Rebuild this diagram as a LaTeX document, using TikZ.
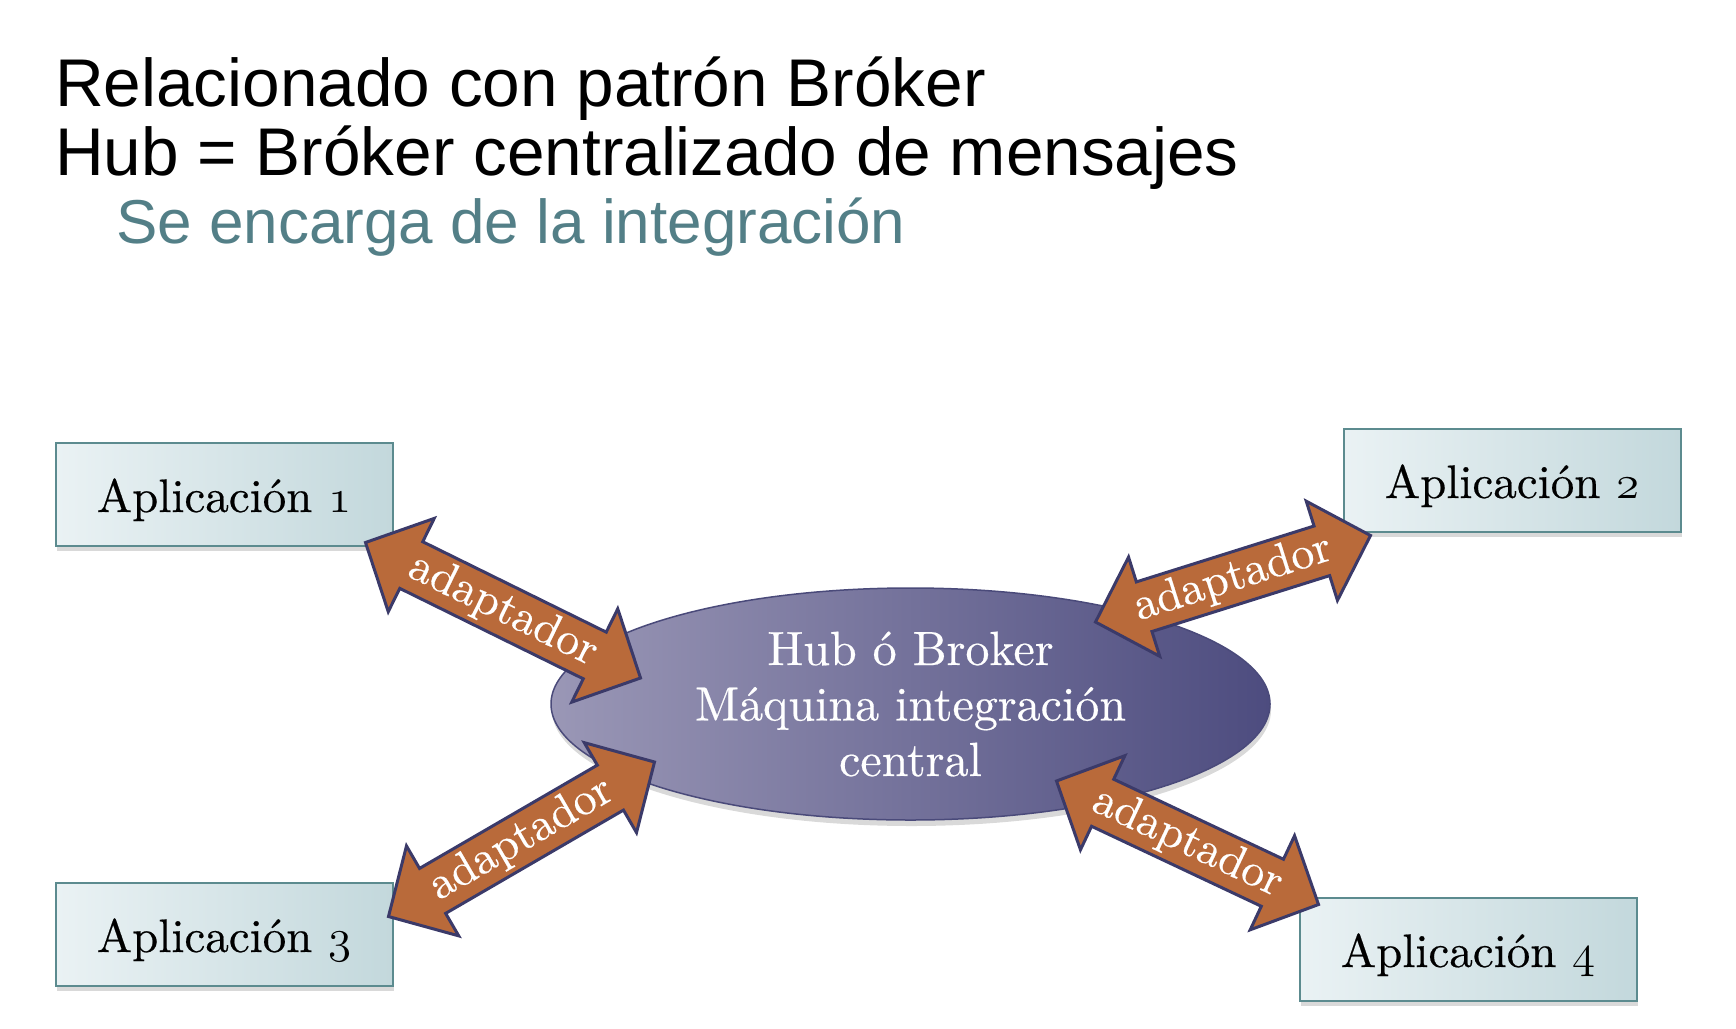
\documentclass[tikz,border=0pt]{standalone}
\usepackage{fix-cm}
\usepackage{fontspec}
\newfontfamily\titlefont{Liberation Sans}
\newfontfamily\romfont{lmroman10-regular}[Extension=.otf, FakeBold=0.4]
\usetikzlibrary{
  calc,
  shapes.geometric,
  shadows,
}
\definecolor{appleft}{HTML}{EAF2F4}
\definecolor{appright}{HTML}{C3D8DC}
\definecolor{appline}{HTML}{5C8B8F}
\definecolor{hubleft}{HTML}{9A97B6}
\definecolor{hubright}{HTML}{4D4C7F}
\definecolor{hubline}{HTML}{4A4A7A}
\definecolor{adfill}{HTML}{B96A3A}
\definecolor{adline}{HTML}{3B3A69}
\definecolor{subtitle}{HTML}{537F87}
\newcommand\osn[1]{{\usefont{OML}{cmm}{m}{it}#1}}

\tikzset{
  fat/.style={
    fill=adfill, draw=adline, line width=3pt, line join=miter,
    to path={
      (\tikztostart)
      -- ($($(\tikztostart)!51pt!(\tikztotarget)$)!52pt!90:(\tikztotarget)$)
      -- ($($(\tikztostart)!51pt!(\tikztotarget)$)!26pt!90:(\tikztotarget)$)
      -- ($($(\tikztotarget)!51pt!(\tikztostart)$)!26pt!-90:(\tikztostart)$)
      -- ($($(\tikztotarget)!51pt!(\tikztostart)$)!52pt!-90:(\tikztostart)$)
      -- (\tikztotarget)
      -- ($($(\tikztotarget)!51pt!(\tikztostart)$)!52pt!90:(\tikztostart)$)
      -- ($($(\tikztotarget)!51pt!(\tikztostart)$)!26pt!90:(\tikztostart)$)
      -- ($($(\tikztostart)!51pt!(\tikztotarget)$)!26pt!-90:(\tikztotarget)$)
      -- ($($(\tikztostart)!51pt!(\tikztotarget)$)!52pt!-90:(\tikztotarget)$)
      -- cycle
    }
  },
}

\begin{document}
\begin{tikzpicture}[
  x=1pt, y=-1pt,
  app/.style={
    draw=appline, line width=2pt, left color=appleft, right color=appright,
    minimum width=337pt, minimum height=103pt, inner sep=0pt,
    text height=36pt, text depth=0pt,
    font=\romfont\fontsize{47}{55}\selectfont,
    drop shadow={shadow xshift=1pt, shadow yshift=-5pt, opacity=0.3}
  },
  hub/.style={
    ellipse, draw=hubline, line width=1.5pt, left color=hubleft, right color=hubright,
    minimum width=719pt, minimum height=232pt, inner sep=0pt,
    text=white, align=center, font=\romfont\fontsize{48}{55.5}\selectfont,
    drop shadow={shadow xshift=1pt, shadow yshift=-6pt, opacity=0.3}
  },
  lab/.style={sloped, text=white, inner sep=0pt, font=\romfont\fontsize{46}{46}\selectfont},
  title/.style={anchor=base west, inner sep=0pt, font=\titlefont\fontsize{67.5}{70}\selectfont},
]
\useasboundingbox (0,0) rectangle (1736,1028);

\node[title] (l1) at (55,106) {Relacionado con patrón Bróker};
\node[title] (l2) at (55,175) {Hub = Bróker centralizado de mensajes};
\node[title, text=subtitle, font=\titlefont\fontsize{62}{70}\selectfont] (l3) at (116,243) {Se encarga de la integración};

\node[app] (app1) at (224,494) {Aplicación \osn{1}};
\node[app] (app2) at (1512,480) {Aplicación \osn{2}};
\node[app] (app3) at (224,934) {Aplicación \osn{3}};
\node[app] (app4) at (1468,949) {Aplicación \osn{4}};

\node[hub] (hub) at (910.5,704) {Hub ó Broker\\Máquina integración\\central};

\coordinate (p1) at ([shift={(-28,-4)}]app1.south east);
\coordinate (q1) at ([shift={(-270,-26)}]hub.center);
\coordinate (p2) at ([shift={(185,-82)}]hub.center);
\coordinate (q2) at ([shift={(28,3)}]app2.south west);
\coordinate (p3) at ([shift={(-5,35)}]app3.north east);
\coordinate (q3) at ([shift={(-256,58)}]hub.center);
\coordinate (p4) at ([shift={(146,77)}]hub.center);
\coordinate (q4) at ([shift={(20,8)}]app4.north west);

\foreach \i in {1,...,4} {
  \draw[fat] (p\i) to (q\i);
  \path (p\i) -- node[lab] {adaptador} (q\i);
}
\end{tikzpicture}
\end{document}
